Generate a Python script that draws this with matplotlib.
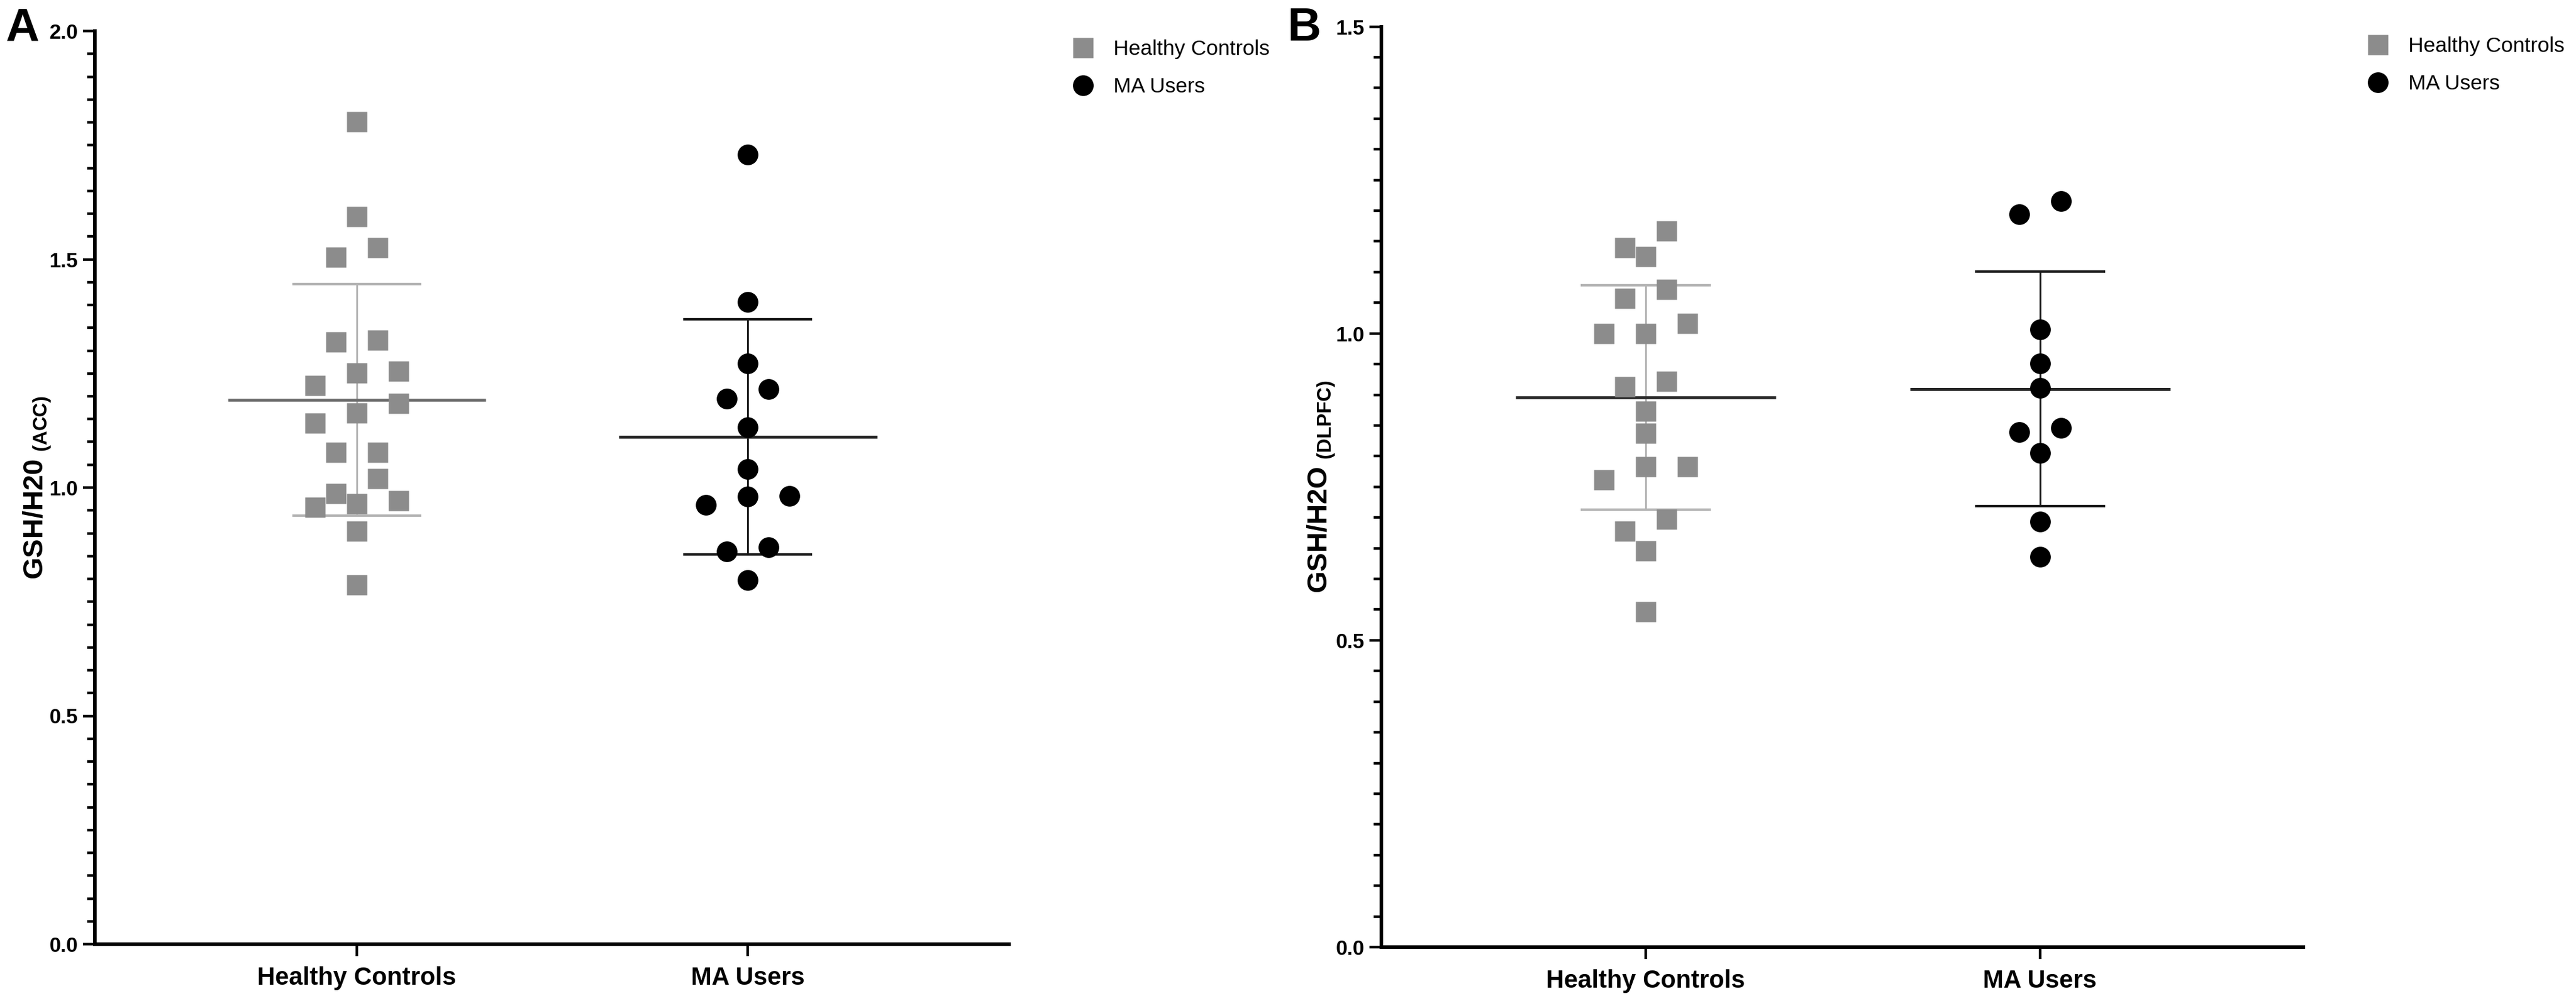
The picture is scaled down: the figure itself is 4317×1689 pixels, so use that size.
import matplotlib
matplotlib.use("Agg")
import matplotlib.pyplot as plt
import numpy as np
from matplotlib.lines import Line2D
from matplotlib.ticker import MultipleLocator, FormatStrFormatter

# values
groups = ["Healthy Controls", "MA Users"]

acc_hc = [1.801, 1.594, 1.526, 1.505, 1.323, 1.319, 1.255, 1.251, 1.223, 1.184,
          1.164, 1.141, 1.077, 1.077, 1.020, 0.987, 0.971, 0.965, 0.957, 0.904, 0.787]
acc_ma = [1.730, 1.407, 1.272, 1.216, 1.195, 1.132, 1.041, 0.982, 0.980, 0.962,
          0.869, 0.860, 0.797]

dlpfc_hc = [1.167, 1.140, 1.125, 1.072, 1.057, 1.016, 1.000, 1.000, 0.922, 0.913,
            0.873, 0.837, 0.783, 0.783, 0.761, 0.697, 0.678, 0.646, 0.547]
dlpfc_ma = [1.216, 1.194, 1.006, 0.951, 0.911, 0.846, 0.839, 0.805, 0.693, 0.636]

W, H = 4317, 1689
DPI = 100

plt.rcParams['font.family'] = ['Liberation Sans', 'DejaVu Sans']
plt.rcParams['font.weight'] = 'bold'
plt.rcParams['mathtext.fontset'] = 'custom'
plt.rcParams['mathtext.bf'] = 'Liberation Sans:bold'
plt.rcParams['mathtext.rm'] = 'Liberation Sans:bold'

HC_COL = '#8c8c8c'
MA_COL = '#000000'


def swarm_offsets(values, ax, size_px=34, step_px=35):
    # rows of nearby values are spread symmetrically, Prism style
    p0 = ax.transData.transform((0, 0))
    x_scale = ax.transData.transform((1, 0))[0] - p0[0]
    y_scale = ax.transData.transform((0, 1))[1] - p0[1]
    vals = np.asarray(values, dtype=float)
    order = list(np.argsort(vals, kind='stable')[::-1])
    offsets = np.zeros(len(vals))
    placed = []
    while order:
        top = vals[order[0]] * y_scale
        row = [i for i in order if top - vals[i] * y_scale < size_px]
        order = order[len(row):]
        n = len(row)
        base = [(n - 1 - k - (n - 1) / 2) * 2 * step_px for k in range(n)]
        for shift in [0, step_px, -step_px, 2 * step_px, -2 * step_px]:
            xs = [b + shift for b in base]
            ok = all((x - px) ** 2 + (vals[i] * y_scale - py) ** 2 >= size_px ** 2
                     for x, i in zip(xs, row) for px, py in placed)
            if ok:
                break
        for x, i in zip(xs, row):
            placed.append((x, vals[i] * y_scale))
            offsets[i] = x / x_scale
    return offsets


def panel(ax, hc, ma, ymax, ylabel, hc_mean_col):
    ax.set_xlim(-0.67, 1.668)
    ax.set_ylim(0, ymax)
    for s in ['top', 'right']:
        ax.spines[s].set_visible(False)
    for s in ['left', 'bottom']:
        ax.spines[s].set_linewidth(4.3)

    ax.set_xticks([0, 1])
    ax.set_xticklabels(groups, fontsize=30)
    ax.yaxis.set_major_locator(MultipleLocator(0.5))
    ax.yaxis.set_minor_locator(MultipleLocator(0.05))
    ax.yaxis.set_major_formatter(FormatStrFormatter('%.1f'))
    ax.tick_params(axis='y', which='major', length=14.4, width=3.2, pad=6, labelsize=25)
    ax.tick_params(axis='y', which='minor', length=9.4, width=3.2)
    ax.tick_params(axis='x', length=14.4, width=3.2, pad=12)

    specs = [(0, hc, 's', HC_COL, hc_mean_col, '#b4b4b4'),
             (1, ma, 'o', MA_COL, '#262626', '#1a1a1a')]
    for pos, vals, mk, col, mean_col, bar_col in specs:
        vals = np.array(vals)
        m = vals.mean()
        sd = vals.std(ddof=1)
        ax.plot([pos - 0.33, pos + 0.33], [m, m], color=mean_col, lw=3.6,
                solid_capstyle='butt', zorder=2)
        ax.plot([pos, pos], [m - sd, m + sd], color=bar_col, lw=2.2, zorder=1)
        for yv in (m - sd, m + sd):
            ax.plot([pos - 0.165, pos + 0.165], [yv, yv], color=bar_col, lw=3.0,
                    solid_capstyle='butt', zorder=1)
        xs = pos + swarm_offsets(vals, ax)
        ax.plot(xs, vals, ls='none', marker=mk, ms=25, mfc=col, mec='none', zorder=3)

    ax.set_ylabel(ylabel, fontsize=34)

    handles = [Line2D([], [], ls='none', marker='s', ms=25, mfc=HC_COL, mec='none'),
               Line2D([], [], ls='none', marker='o', ms=25, mfc=MA_COL, mec='none')]
    return handles


fig = plt.figure(figsize=(W / DPI, H / DPI), dpi=DPI)
ax_a = fig.add_axes([159 / W, 107 / H, 1532 / W, 1530 / H])
ax_b = fig.add_axes([2315 / W, 102 / H, 1545 / W, 1542.5 / H])

h = panel(ax_a, acc_hc, acc_ma, 2.0, r'$\mathbf{GSH/H20}_{\ \mathbf{(ACC)}}$', '#6e6e6e')
ax_a.yaxis.set_label_coords(-0.046, 0.5)
panel(ax_b, dlpfc_hc, dlpfc_ma, 1.5, r'$\mathbf{GSH/H2O}_{\ \mathbf{(DLPFC)}}$', '#2e2e2e')
ax_b.yaxis.set_label_coords(-0.048, 0.5)

legend_kw = dict(loc='upper left', bbox_transform=fig.transFigure, frameon=False,
                 prop={'weight': 'normal', 'size': 25.5}, handlelength=1.0,
                 handletextpad=0.95, labelspacing=0.85, borderpad=0, borderaxespad=0)
ax_a.legend(h, groups, bbox_to_anchor=(1797 / W, 1 - 66 / H), **legend_kw)
ax_b.legend(h, groups, bbox_to_anchor=(3967 / W, 1 - 61 / H), **legend_kw)

fig.text(9 / W, 1 - 68 / H, 'A', fontsize=56, fontweight='bold', va='baseline')
fig.text(2158 / W, 1 - 68 / H, 'B', fontsize=56, fontweight='bold', va='baseline')

fig.savefig('out.png', dpi=DPI, facecolor='white')
